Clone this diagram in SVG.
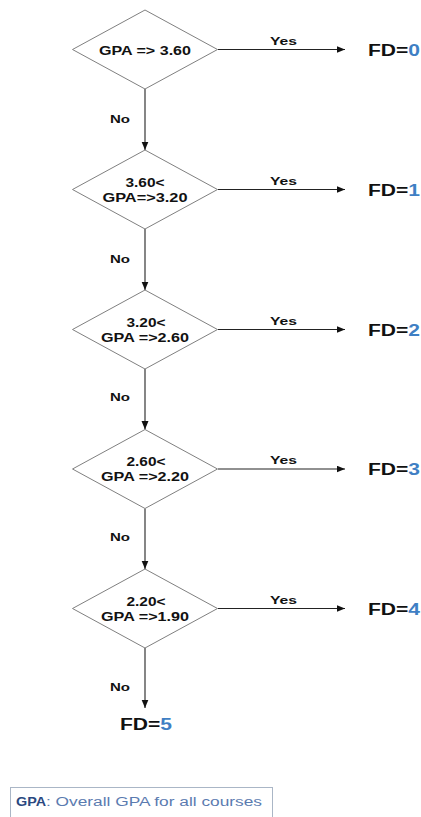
<svg xmlns="http://www.w3.org/2000/svg" width="421" height="817" viewBox="0 0 421 817">
<style>
.dia{fill:#fff;stroke:#808080;stroke-width:1}
.con{stroke:#222;stroke-width:1.1;fill:none}
.t{font-family:"Liberation Sans",Arial,sans-serif;font-weight:bold;fill:#111}
.c{font-size:12px;text-anchor:middle}
.lbl{font-size:11px}
.fd{font-size:16px}
.num{fill:#3f7fc4}
.leg{font-family:"Liberation Sans",Arial,sans-serif;font-size:12px;fill:#5b7bb0}
.legb{font-weight:bold;fill:#2a4880}
</style>
<defs>
<marker id="ah" markerWidth="9" markerHeight="8" refX="8.5" refY="3.5" orient="auto" markerUnits="userSpaceOnUse">
<path d="M0,0 L8.5,3.5 L0,7 z" fill="#111"/>
</marker>
</defs>
<rect width="421" height="817" fill="#fff"/>
<g id="connectors">
<line class="con" x1="145" y1="89" x2="145" y2="150" marker-end="url(#ah)"/>
<line class="con" x1="145" y1="229" x2="145" y2="290" marker-end="url(#ah)"/>
<line class="con" x1="145" y1="369" x2="145" y2="429.5" marker-end="url(#ah)"/>
<line class="con" x1="145" y1="508.5" x2="145" y2="569" marker-end="url(#ah)"/>
<line class="con" x1="145" y1="648" x2="145" y2="708" marker-end="url(#ah)"/>
<line class="con" x1="218" y1="49.5" x2="345" y2="49.5" marker-end="url(#ah)"/>
<line class="con" x1="218" y1="189.5" x2="345" y2="189.5" marker-end="url(#ah)"/>
<line class="con" x1="218" y1="329.5" x2="345" y2="329.5" marker-end="url(#ah)"/>
<line class="con" x1="218" y1="469" x2="345" y2="469" marker-end="url(#ah)"/>
<line class="con" x1="218" y1="608.5" x2="345" y2="608.5" marker-end="url(#ah)"/>
<text class="t lbl" x="270" y="44.5" textLength="27" lengthAdjust="spacingAndGlyphs">Yes</text>
<text class="t lbl" x="270" y="184.5" textLength="27" lengthAdjust="spacingAndGlyphs">Yes</text>
<text class="t lbl" x="270" y="324.5" textLength="27" lengthAdjust="spacingAndGlyphs">Yes</text>
<text class="t lbl" x="270" y="464" textLength="27" lengthAdjust="spacingAndGlyphs">Yes</text>
<text class="t lbl" x="270" y="603.5" textLength="27" lengthAdjust="spacingAndGlyphs">Yes</text>
<text class="t lbl" x="110" y="123" textLength="20" lengthAdjust="spacingAndGlyphs">No</text>
<text class="t lbl" x="110" y="262.5" textLength="20" lengthAdjust="spacingAndGlyphs">No</text>
<text class="t lbl" x="110" y="401" textLength="20" lengthAdjust="spacingAndGlyphs">No</text>
<text class="t lbl" x="110" y="541" textLength="20" lengthAdjust="spacingAndGlyphs">No</text>
<text class="t lbl" x="110" y="691" textLength="20" lengthAdjust="spacingAndGlyphs">No</text>
</g>
<g id="d1">
<polygon class="dia" points="145,10 217.5,49.5 145,89 72.5,49.5"/>
<text class="t c" x="145" y="54.5" textLength="92" lengthAdjust="spacingAndGlyphs">GPA =&gt; 3.60</text>
</g>
<g id="d2">
<polygon class="dia" points="145,150 217.5,189.5 145,229 72.5,189.5"/>
<text class="t c" x="145" y="186.5" textLength="39" lengthAdjust="spacingAndGlyphs">3.60&lt;</text>
<text class="t c" x="145" y="201.5" textLength="85" lengthAdjust="spacingAndGlyphs">GPA=&gt;3.20</text>
</g>
<g id="d3">
<polygon class="dia" points="145,290 217.5,329.5 145,369 72.5,329.5"/>
<text class="t c" x="146" y="326.5" textLength="39" lengthAdjust="spacingAndGlyphs">3.20&lt;</text>
<text class="t c" x="145" y="341.5" textLength="88" lengthAdjust="spacingAndGlyphs">GPA =&gt;2.60</text>
</g>
<g id="d4">
<polygon class="dia" points="145,429.5 217.5,469 145,508.5 72.5,469"/>
<text class="t c" x="146" y="466" textLength="39" lengthAdjust="spacingAndGlyphs">2.60&lt;</text>
<text class="t c" x="145" y="481" textLength="88" lengthAdjust="spacingAndGlyphs">GPA =&gt;2.20</text>
</g>
<g id="d5">
<polygon class="dia" points="145,569 217.5,608.5 145,648 72.5,608.5"/>
<text class="t c" x="146" y="605.5" textLength="39" lengthAdjust="spacingAndGlyphs">2.20&lt;</text>
<text class="t c" x="145" y="620.5" textLength="88" lengthAdjust="spacingAndGlyphs">GPA =&gt;1.90</text>
</g>
<g id="fd0"><text class="t fd" x="368" y="55.5" textLength="52" lengthAdjust="spacingAndGlyphs">FD=<tspan class="num">0</tspan></text></g>
<g id="fd1"><text class="t fd" x="368" y="195.5" textLength="52" lengthAdjust="spacingAndGlyphs">FD=<tspan class="num">1</tspan></text></g>
<g id="fd2"><text class="t fd" x="368" y="335.5" textLength="52" lengthAdjust="spacingAndGlyphs">FD=<tspan class="num">2</tspan></text></g>
<g id="fd3"><text class="t fd" x="368" y="475" textLength="52" lengthAdjust="spacingAndGlyphs">FD=<tspan class="num">3</tspan></text></g>
<g id="fd4"><text class="t fd" x="368" y="614.5" textLength="52" lengthAdjust="spacingAndGlyphs">FD=<tspan class="num">4</tspan></text></g>
<g id="fd5"><text class="t fd" x="120" y="730" textLength="52" lengthAdjust="spacingAndGlyphs">FD=<tspan class="num">5</tspan></text></g>
<g id="legend">
<rect x="10.5" y="787.5" width="262" height="40" fill="#fff" stroke="#aab6c6" stroke-width="1"/>
<text class="leg legb" x="16" y="806" textLength="30" lengthAdjust="spacingAndGlyphs">GPA</text>
<text class="leg" x="46" y="806" textLength="216" lengthAdjust="spacingAndGlyphs">: Overall GPA for all courses</text>
</g>
</svg>
